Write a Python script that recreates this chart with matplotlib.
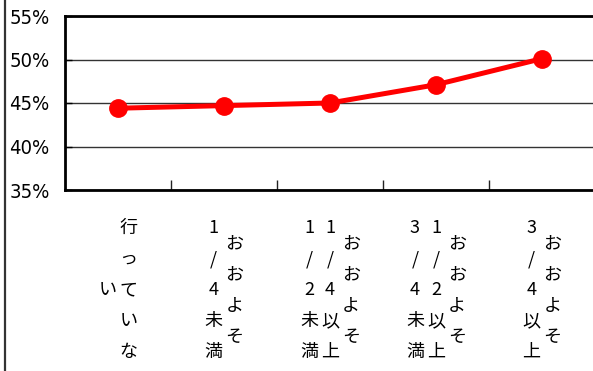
"""Line chart: share by category, with Excel-style vertical Japanese labels."""
import matplotlib
matplotlib.use("Agg")
import matplotlib.pyplot as plt
from matplotlib.lines import Line2D
from matplotlib.ticker import FuncFormatter
import matplotlib.transforms as mtransforms

# ── data ────────────────────────────────────────────────────────────────
# each label is a list of vertical columns, in reading order (right -> left)
labels = [
    ["行っていな", "い"],
    ["おおよそ", "1/4未満"],
    ["おおよそ", "1/4以上", "1/2未満"],
    ["おおよそ", "1/2以上", "3/4未満"],
    ["おおよそ", "3/4以上"],
]
values = [0.444, 0.447, 0.450, 0.471, 0.501]
yticks = [0.35, 0.40, 0.45, 0.50, 0.55]

JP = ["Noto Sans CJK JP", "DejaVu Sans"]

fig = plt.figure(figsize=(5.93, 3.71), dpi=100)
ax = fig.add_axes([65 / 593, 1 - 190 / 371, 530 / 593, 174 / 371])

x = list(range(len(values)))
ax.plot(x, values, color="#ff0000", linewidth=3.6, marker="o",
        markersize=12.5, solid_capstyle="round", zorder=3, clip_on=False)

ax.set_xlim(-0.5, len(values) - 0.5)
ax.set_ylim(yticks[0], yticks[-1])
ax.set_yticks(yticks)
ax.yaxis.set_major_formatter(FuncFormatter(lambda v, p: f"{v*100:.0f}%"))
for t in ax.get_yticklabels():
    t.set_family("DejaVu Sans")
    t.set_stretch("condensed")
    t.set_fontsize(14.5)
# shift y labels down a touch, like the original
offset = mtransforms.ScaledTranslation(0, -4 / 100, fig.dpi_scale_trans)
for t in ax.get_yticklabels():
    t.set_transform(t.get_transform() + offset)
ax.tick_params(axis="y", direction="in", length=5, width=1, pad=11,
               color="black")

# category boundary ticks only, no labels (labels drawn by hand below)
ax.set_xticks([i + 0.5 for i in range(len(values) - 1)])
ax.set_xticklabels([])
ax.tick_params(axis="x", direction="in", length=7, width=1, color="#222222")

ax.yaxis.grid(True, color="#333333", linewidth=1.0)
ax.set_axisbelow(True)
for s in ("top", "bottom", "left"):
    ax.spines[s].set_linewidth(2.0)
    ax.spines[s].set_color("black")
ax.spines["right"].set_visible(False)

# vertical labels: columns right -> left, each column centred vertically
col_dx = 21 * 0.72    # px -> pt
row_dy = 31 * 0.72
centre_y = -100 * 0.72
for i, cols in enumerate(labels):
    n = len(cols)
    for c, text in enumerate(cols):
        dx = ((n - 1) / 2 - c) * col_dx
        m = len(text)
        for r, ch in enumerate(text):
            dy = centre_y - (r - (m - 1) / 2) * row_dy
            ax.annotate(ch, xy=(i, 0), xycoords=("data", "axes fraction"),
                        xytext=(dx, dy), textcoords="offset points",
                        ha="center", va="center", fontsize=13, family=JP,
                        annotation_clip=False)

# chart-area border on the far left
fig.add_artist(Line2D([5 / 593, 5 / 593], [0, 1], color="#333333",
                      linewidth=1.6, transform=fig.transFigure))

fig.savefig("out.png", dpi=100)
